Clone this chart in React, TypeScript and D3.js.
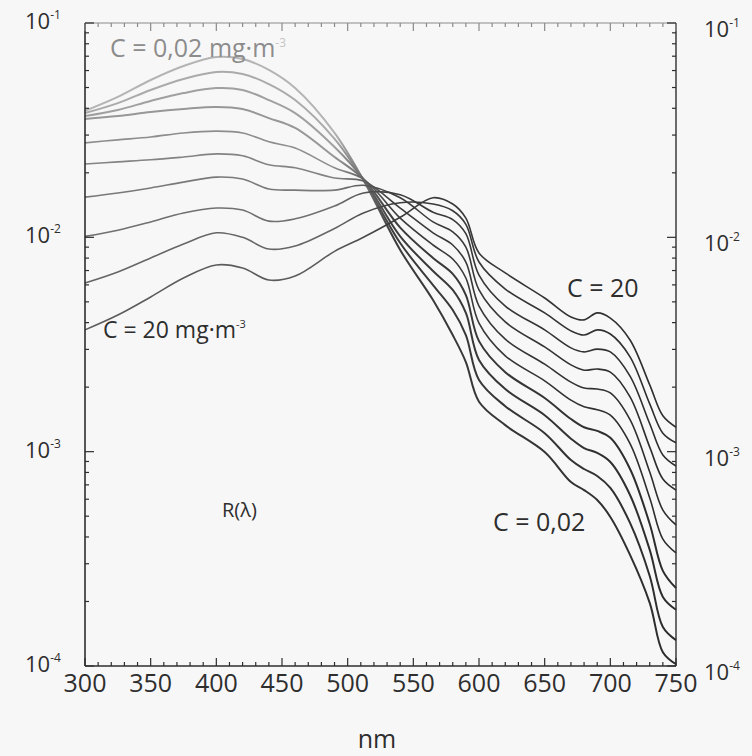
import React from "react";
import * as d3 from "d3";

const wavelengths = [300, 325, 350, 375, 400, 420, 440, 460, 490, 512, 540, 565, 580, 590, 600, 620, 650, 670, 680, 690, 700, 715, 730, 740, 750];

const concentrations = [0.02, 0.05, 0.1, 0.2, 0.5, 1, 2, 5, 10, 20];

const rC002 = [0.0389, 0.0452, 0.0542, 0.0630, 0.0694, 0.0679, 0.0604, 0.0497, 0.0307, 0.0185, 0.00873, 0.00510, 0.00350, 0.00262, 0.00171, 0.00133, 0.000996, 0.000722, 0.000662, 0.000595, 0.000496, 0.000330, 0.000197, 0.000116, 0.000102];
const rC005 = [0.0380, 0.0423, 0.0487, 0.0548, 0.0591, 0.0578, 0.0519, 0.0437, 0.0288, 0.0185, 0.00941, 0.00599, 0.00458, 0.00350, 0.00216, 0.00163, 0.00122, 0.000914, 0.000830, 0.000770, 0.000677, 0.000465, 0.000263, 0.000152, 0.000132];
const rC01 = [0.0368, 0.0393, 0.0433, 0.0471, 0.0497, 0.0487, 0.0437, 0.0380, 0.0264, 0.0187, 0.0101, 0.00697, 0.00568, 0.00444, 0.00268, 0.00196, 0.00148, 0.00115, 0.00104, 0.000986, 0.000895, 0.000628, 0.000348, 0.000210, 0.000183];
const rC02 = [0.0357, 0.0368, 0.0384, 0.0397, 0.0406, 0.0397, 0.0360, 0.0324, 0.0237, 0.0187, 0.0111, 0.00801, 0.00675, 0.00538, 0.00328, 0.00235, 0.00178, 0.00142, 0.00130, 0.00125, 0.00116, 0.000830, 0.000460, 0.000278, 0.000231];
const rC05 = [0.0276, 0.0285, 0.0294, 0.0307, 0.0313, 0.0307, 0.0279, 0.0261, 0.0211, 0.0187, 0.0123, 0.00921, 0.00792, 0.00646, 0.00398, 0.00280, 0.00214, 0.00174, 0.00162, 0.00157, 0.00148, 0.00109, 0.000608, 0.000391, 0.000337];
const rC1 = [0.0220, 0.0225, 0.0230, 0.0237, 0.0245, 0.0240, 0.0218, 0.0211, 0.0189, 0.0183, 0.0137, 0.0105, 0.00921, 0.00767, 0.00478, 0.00335, 0.00256, 0.00211, 0.00198, 0.00196, 0.00188, 0.00141, 0.000804, 0.000534, 0.000455];
const rC2 = [0.0154, 0.0161, 0.0170, 0.0181, 0.0191, 0.0187, 0.0168, 0.0166, 0.0166, 0.0175, 0.0153, 0.0118, 0.0106, 0.00901, 0.00568, 0.00403, 0.00308, 0.00254, 0.00240, 0.00243, 0.00235, 0.00180, 0.00105, 0.000745, 0.000662];
const rC5 = [0.0101, 0.0108, 0.0118, 0.0130, 0.0137, 0.0134, 0.0119, 0.0122, 0.0140, 0.0161, 0.0158, 0.0131, 0.0121, 0.0104, 0.00667, 0.00478, 0.00370, 0.00305, 0.00292, 0.00301, 0.00292, 0.00225, 0.00135, 0.000965, 0.000857];
const rC10 = [0.00612, 0.00689, 0.00801, 0.00931, 0.0105, 0.0100, 0.00882, 0.00911, 0.0110, 0.0130, 0.0145, 0.0143, 0.0133, 0.0115, 0.00767, 0.00574, 0.00444, 0.00366, 0.00350, 0.00370, 0.00354, 0.00277, 0.00167, 0.00122, 0.00110];
const rC20 = [0.00370, 0.00434, 0.00527, 0.00646, 0.00743, 0.00719, 0.00632, 0.00660, 0.00860, 0.0100, 0.0124, 0.0153, 0.0143, 0.0123, 0.00845, 0.00682, 0.00521, 0.00425, 0.00412, 0.00444, 0.00420, 0.00332, 0.00205, 0.00147, 0.00130];

const seriesList = [rC002, rC005, rC01, rC02, rC05, rC1, rC2, rC5, rC10, rC20];

const xTickLabels = [300, 350, 400, 450, 500, 550, 600, 650, 700, 750];
const yDecades = [1e-4, 1e-3, 1e-2, 1e-1];
const yDecadeExponents = ["-4", "-3", "-2", "-1"];

export default function App() {
  const W = 752;
  const H = 756;
  const x = d3.scaleLinear().domain([300, 750]).range([85, 676]);
  const y = d3.scaleLog().domain([1e-4, 1e-1]).range([666, 23]);
  const [x0, x1] = x.range();
  const [yB, yT] = y.range();

  const line = d3
    .line<number>()
    .x((_, i) => x(wavelengths[i]))
    .y((d) => y(d))
    .curve(d3.curveCatmullRom.alpha(0.5));

  const minorX = d3.range(300, 751, 10);
  const minorY: number[] = [];
  [-4, -3, -2].forEach((e) => {
    for (let k = 1; k <= 9; k++) minorY.push(k * Math.pow(10, e));
  });
  minorY.push(0.1);

  const leftGrey = d3.interpolateRgb("#b4b4b4", "#5c5c5c");
  const font = "'Open Sans', 'DejaVu Sans', sans-serif";
  const ink = "#2e2e2e";

  return (
    <svg width={W} height={H} style={{ position: "absolute", left: 0, top: 0 }} fontFamily={font}>
      <rect x={0} y={0} width={W} height={H} fill="#f8f7f7" />
      <defs>
        {seriesList.map((_, i) => {
          const t = i / (seriesList.length - 1);
          const c = leftGrey(t);
          return (
            <linearGradient key={i} id={`g${i}`} gradientUnits="userSpaceOnUse" x1={x0} x2={x1} y1={0} y2={0}>
              <stop offset="0" stopColor={c} />
              <stop offset="0.42" stopColor={c} />
              <stop offset="0.52" stopColor="#3c3c3c" />
              <stop offset="1" stopColor="#2c2c2c" />
            </linearGradient>
          );
        })}
      </defs>

      {/* curves */}
      {seriesList.map((s, i) => (
        <path key={concentrations[i]} d={line(s) || ""} fill="none" stroke={`url(#g${i})`} strokeWidth={i < 4 ? 2 : 1.6} />
      ))}

      {/* frame */}
      <line x1={x0} x2={x0} y1={yT} y2={yB} stroke={ink} strokeWidth={1.6} />
      <line x1={x1} x2={x1} y1={yT} y2={yB} stroke={ink} strokeWidth={1.4} />
      <line x1={x0} x2={x1} y1={yB} y2={yB} stroke={ink} strokeWidth={1.6} />
      <line x1={x0} x2={x1} y1={yT} y2={yT} stroke="#8a8a8a" strokeWidth={1} />

      {/* x ticks bottom and top */}
      {minorX.map((v) => {
        const major = v % 50 === 0;
        const len = major ? 8 : 4;
        return (
          <g key={`xt${v}`}>
            <line x1={x(v)} x2={x(v)} y1={yB} y2={yB - len} stroke={ink} strokeWidth={1.2} />
            <line x1={x(v)} x2={x(v)} y1={yT} y2={yT + len} stroke="#8a8a8a" strokeWidth={1.2} />
          </g>
        );
      })}

      {/* y ticks left and right */}
      {minorY.map((v, i) => {
        const major = yDecades.some((d) => Math.abs(d - v) / d < 1e-9);
        const len = major ? 9 : 4;
        return (
          <g key={`yt${i}`}>
            <line x1={x0} x2={x0 + len} y1={y(v)} y2={y(v)} stroke={ink} strokeWidth={1.2} />
            <line x1={x1} x2={x1 - len} y1={y(v)} y2={y(v)} stroke={ink} strokeWidth={1.2} />
          </g>
        );
      })}

      {/* x tick labels */}
      {xTickLabels.map((v) => (
        <text key={`xl${v}`} x={x(v)} y={692} textAnchor="middle" fontSize={25} fill={ink}>
          {v}
        </text>
      ))}
      <text x={377} y={748} textAnchor="middle" fontSize={25} fill={ink}>nm</text>

      {/* y tick labels left */}
      {yDecades.map((v, i) => (
        <text key={`yl${i}`} x={25} y={y(v) + 6} fontSize={22} fill={ink}>
          10<tspan dy={-10} fontSize={12}>{yDecadeExponents[i]}</tspan>
        </text>
      ))}
      {/* y tick labels right */}
      {yDecades.map((v, i) => (
        <text key={`yr${i}`} x={704} y={y(v) + 14} fontSize={22} fill={ink}>
          10<tspan dy={-10} fontSize={12}>{yDecadeExponents[i]}</tspan>
        </text>
      ))}

      {/* annotations */}
      <text x={110} y={57} fontSize={25} fill="#8c8c8c">
        C = 0,02 mg·m<tspan dy={-10} fontSize={12} fill="#c4c4c4">-3</tspan>
      </text>
      <text x={103} y={338} fontSize={23} fill={ink}>
        C = 20 mg·m<tspan dy={-10} fontSize={11}>-3</tspan>
      </text>
      <text x={567} y={297} fontSize={25} fill={ink}>C = 20</text>
      <text x={493} y={531} fontSize={25} fill={ink}>C = 0,02</text>
      <text x={222} y={517} fontSize={20} fill={ink}>R(λ)</text>
    </svg>
  );
}
